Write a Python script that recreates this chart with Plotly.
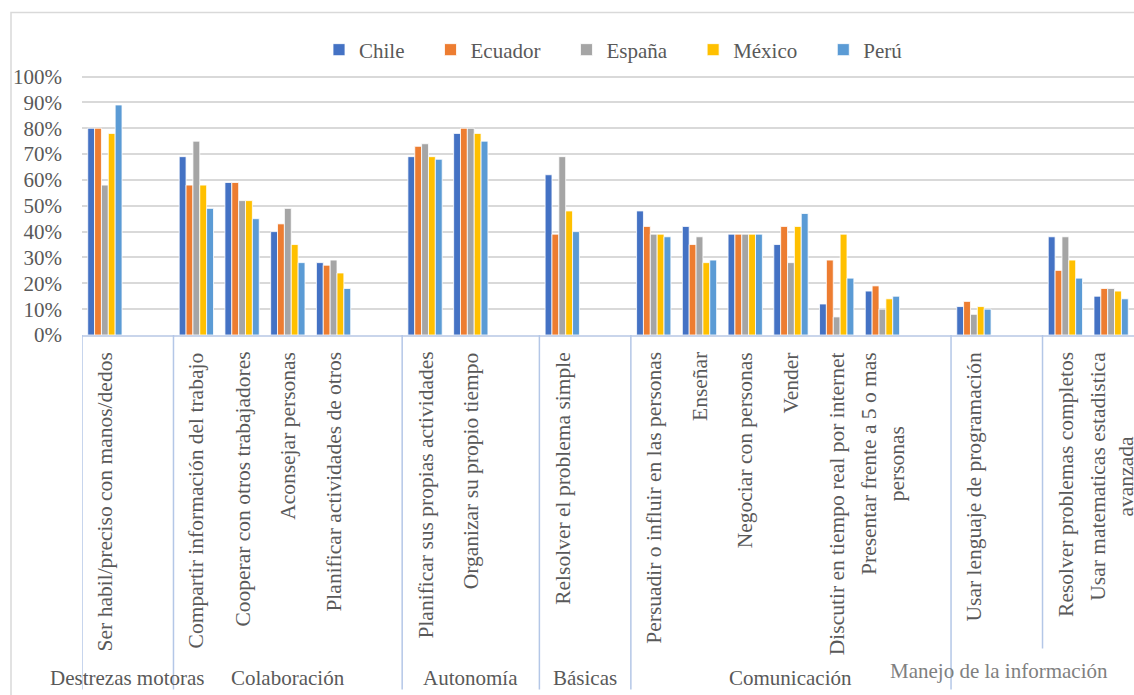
import plotly.graph_objects as go

# ---------------- data ----------------
skills = [
    "Ser habil/preciso con manos/dedos",
    "Compartir información del trabajo",
    "Cooperar con otros trabajadores",
    "Aconsejar personas",
    "Planificar actividades de otros",
    "Planificar sus propias actividades",
    "Organizar su propio tiempo",
    "Relsolver el problema simple",
    "Persuadir o influir en las personas",
    "Enseñar",
    "Negociar con personas",
    "Vender",
    "Discutir en tiempo real por internet",
    "Presentar frente a 5 o mas<br>personas",
    "Usar lenguaje de programación",
    "Resolver problemas completos",
    "Usar matematicas estadistica<br>avanzada",
]
group_labels = ["Destrezas motoras", "Colaboración", "Autonomía", "Básicas",
                "Comunicación", "", ""]
group_sizes = [1, 4, 2, 1, 6, 1, 2]
overlay_label = "Manejo de la información"

countries = ["Chile", "Ecuador", "España", "México", "Perú"]
colors = ["#4472C4", "#ED7D31", "#A5A5A5", "#FFC000", "#5B9BD5"]

chile   = [80, 69, 59, 40, 28, 69, 78, 62, 48, 42, 39, 35, 12, 17, 11, 38, 15]
ecuador = [80, 58, 59, 43, 27, 73, 80, 39, 42, 35, 39, 42, 29, 19, 13, 25, 18]
espana  = [58, 75, 52, 49, 29, 74, 80, 69, 39, 38, 39, 28, 7, 10, 8, 38, 18]
mexico  = [78, 58, 52, 35, 24, 69, 78, 48, 39, 28, 39, 42, 39, 14, 11, 29, 17]
peru    = [89, 49, 45, 28, 18, 68, 75, 40, 38, 29, 39, 47, 22, 15, 10, 22, 14]
series = [chile, ecuador, espana, mexico, peru]

y_ticks = list(range(0, 101, 10))
y_ticktext = [f"{v}%" for v in y_ticks]

# ---------------- layout geometry (pixels) ----------------
W, H = 1134, 695
PL, P100, PB = 82, 77, 335        # plot left, row of 100%, plot bottom
YMAX = 100.6
PT = PB - (PB - P100) * YMAX / 100.0   # actual top of plot area
PR = W
TXT = "#595959"
FONT = "Liberation Serif, Times New Roman, serif"
FS = 21


def py(pix):
    """pixel row -> paper y"""
    return (PB - pix) / (PB - PT)


def px(pix):
    return (pix - PL) / (PR - PL)


# build category slots (one blank slot after every group except the last)
cats = []
slot_of_skill = []
group_bounds = []
k = 0
b = 0
for gi, size in enumerate(group_sizes):
    start = len(cats)
    for _ in range(size):
        slot_of_skill.append(len(cats))
        cats.append(f"s{k}")
        k += 1
    if gi < len(group_sizes) - 1:
        cats.append(f"blank{b}")
        b += 1
    group_bounds.append((start, len(cats)))

fig = go.Figure()
for name, col, vals in zip(countries, colors, series):
    yv = [None] * len(cats)
    for i, v in enumerate(vals):
        yv[slot_of_skill[i]] = v
    fig.add_trace(go.Bar(
        x=cats, y=yv, name=name + "\u00a0" * 4,
        marker=dict(color=col, line=dict(color="white", width=0.8)),
    ))

annotations = []
# category labels (rotated)
for i, s in enumerate(skills):
    annotations.append(dict(
        x=slot_of_skill[i], y=py(350), xref="x", yref="paper",
        text=s, textangle=-90, showarrow=False, align="center",
        xanchor="center", yanchor="top",
        font=dict(family=FONT, size=21.5, color=TXT),
    ))

shapes = []
# group dividers and labels
divider_x = [-0.5] + [e - 0.5 for (_, e) in group_bounds]
n_full = 6  # dividers that run to the bottom
for j, dx in enumerate(divider_x[:-1]):
    bottom = 689 if j < n_full else 648
    shapes.append(dict(type="line", xref="x", yref="paper",
                       x0=dx, x1=dx, y0=0, y1=py(bottom),
                       line=dict(color="#B4C7E7", width=1.5)))
for (s0, e0), lab in zip(group_bounds, group_labels):
    if lab:
        annotations.append(dict(
            x=(s0 + e0) / 2 - 0.5, y=py(677), xref="x", yref="paper",
            text=lab, showarrow=False, xanchor="center", yanchor="middle",
            font=dict(family=FONT, size=FS, color=TXT),
        ))
# overlay text box for the last two groups
s_last = group_bounds[-2][0]
e_last = group_bounds[-1][1]
annotations.append(dict(
    x=(s_last + e_last) / 2 - 0.5 - 0.95, y=py(670), xref="x", yref="paper",
    text=overlay_label, showarrow=False, xanchor="center", yanchor="middle",
    font=dict(family=FONT, size=FS, color="#7F7F7F"),
))

# chart border
shapes.append(dict(type="rect", xref="paper", yref="paper",
                   x0=px(11), x1=px(W + 20), y0=py(H + 20), y1=py(13),
                   line=dict(color="#D9D9D9", width=1.5), layer="below"))

fig.update_layout(
    width=W, height=H,
    margin=dict(l=PL, r=W - PR, t=PT, b=H - PB, autoexpand=False),
    paper_bgcolor="white", plot_bgcolor="white",
    barmode="group", bargap=0.25, bargroupgap=0,
    font=dict(family=FONT, size=FS, color=TXT),
    showlegend=True,
    legend=dict(orientation="h", xref="container", yref="container",
                x=319 / W, y=1 - 50 / H, xanchor="left", yanchor="middle",
                font=dict(family=FONT, size=FS, color=TXT),
                bgcolor="rgba(0,0,0,0)", itemclick=False),
    annotations=annotations,
    shapes=shapes,
)
fig.update_xaxes(
    type="category", categoryorder="array", categoryarray=cats,
    range=[-0.5, len(cats) - 0.5],
    showticklabels=False, showgrid=False, ticks="",
    showline=True, linecolor="#C9D5EB", linewidth=2,
)
fig.update_yaxes(
    range=[0, YMAX], tickvals=y_ticks, ticktext=y_ticktext,
    showgrid=True, gridcolor="#D9D9D9", gridwidth=1.5,
    zeroline=False, showline=False, ticks="",
    ticklabelstandoff=19,
    tickfont=dict(family=FONT, size=FS, color=TXT),
)

fig.write_html("out.html")
